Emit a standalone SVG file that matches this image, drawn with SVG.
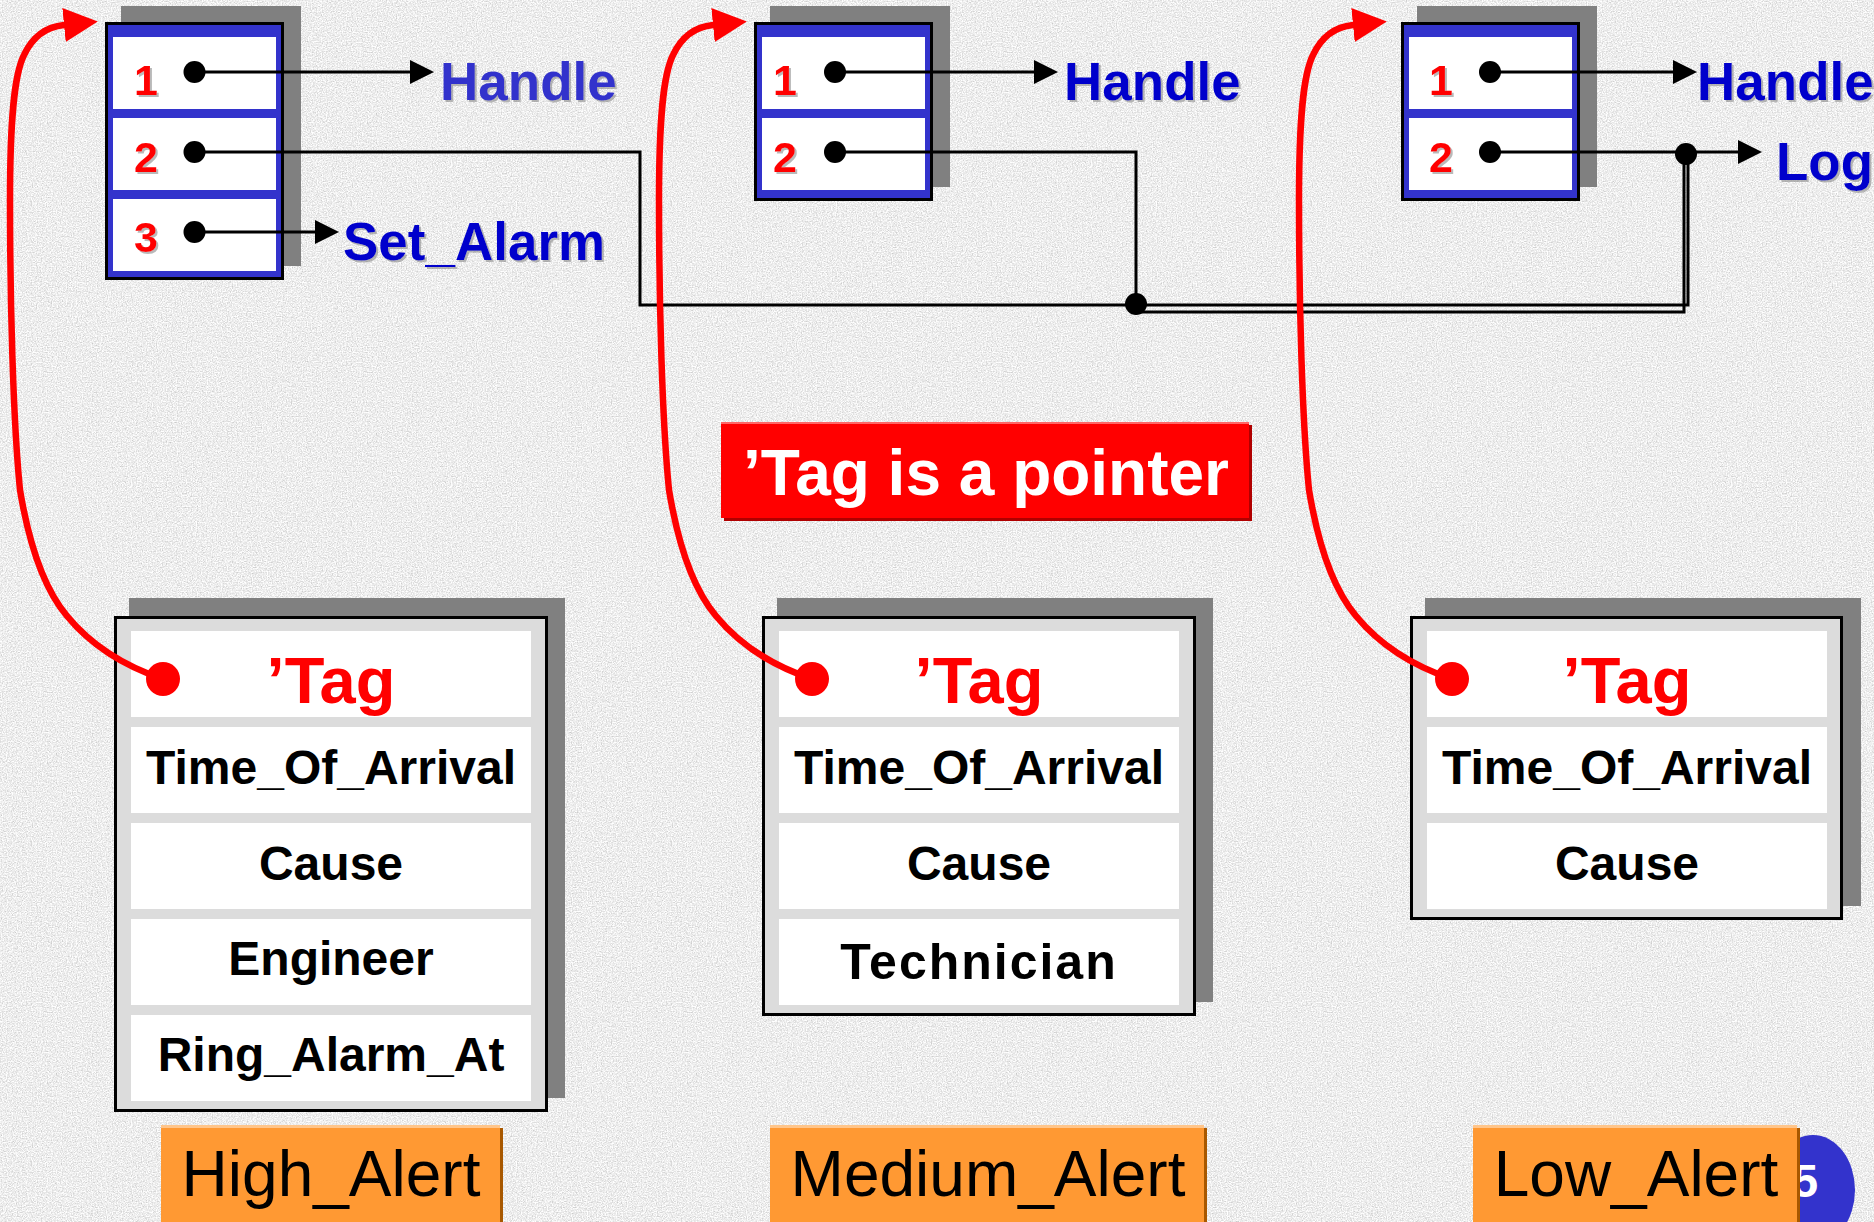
<svg xmlns="http://www.w3.org/2000/svg" width="1874" height="1222" viewBox="0 0 1874 1222">
  <defs>
    <style>
      text { font-family: "Liberation Sans", Arial, Helvetica, sans-serif; }
      .num { font-size: 43px; font-weight: bold; fill: #ff0000; text-anchor: middle; filter: url(#tsh); }
      .op { font-size: 53px; font-weight: bold; fill: #0000cc; filter: url(#tsh); }
      .shade { fill: #808080; }
      .frame { fill: #000000; }
      .blue { fill: #3333cc; }
      .cell { fill: #ffffff; }
      .panel { fill: #dcdcdc; }
      .field { font-size: 48px; font-weight: bold; fill: #000000; text-anchor: middle; }
      .tag { font-size: 65px; font-weight: bold; fill: #ff0000; text-anchor: middle; }
      .wire { fill: none; stroke: #000000; stroke-width: 3; }
      .ray { fill: none; stroke: #000000; stroke-width: 3; marker-end: url(#head); }
      .ptr { fill: none; stroke: #ff0000; stroke-width: 6.5; stroke-linecap: round; marker-end: url(#redhead); }
      .dot { fill: #000000; }
      .rdot { fill: #ff0000; }
      .lbl { fill: #ff9933; }
      .lbl-top { fill: #ffc58a; }
      .lbl-edge { fill: #a85800; }
      .lbltext { font-size: 64px; fill: #000000; text-anchor: middle; }
    </style>
    <filter id="grain" filterUnits="userSpaceOnUse" x="0" y="0" width="1874" height="1222">
      <feTurbulence type="fractalNoise" baseFrequency="0.8" numOctaves="3" seed="11"/>
      <feColorMatrix type="matrix" values="0.7 0 0 0 0.5  0.7 0 0 0 0.5  0.7 0 0 0 0.5  0 0 0 0 1"/>
    </filter>
    <filter id="tsh" x="-10%" y="-10%" width="130%" height="130%">
      <feDropShadow dx="2" dy="2" stdDeviation="0.4" flood-color="#8a8a8a" flood-opacity="0.6"/>
    </filter>
    <marker id="head" markerUnits="userSpaceOnUse" viewBox="0 0 24 24" markerWidth="24" markerHeight="24" refX="0" refY="12" orient="auto">
      <path d="M0,0 L24,12 L0,24 z" fill="#000000"/>
    </marker>
    <marker id="redhead" markerUnits="userSpaceOnUse" viewBox="0 0 34 34" markerWidth="34" markerHeight="34" refX="0" refY="17" orient="auto">
      <path d="M0,0 L34,17 L0,34 z" fill="#ff0000"/>
    </marker>
  </defs>

  <!-- granite backdrop -->
  <rect x="0" y="0" width="1874" height="1222" fill="#d8d8d8"/>
  <rect x="0" y="0" width="1874" height="1222" filter="url(#grain)"/>

  <!-- access tables -->
  <g id="table-high">
    <rect class="shade" x="121" y="6" width="180" height="260"/>
    <rect class="frame" x="105" y="22" width="179" height="258"/>
    <rect class="blue" x="108" y="25" width="173" height="252"/>
    <rect class="cell" x="113" y="37" width="163" height="72"/>
    <rect class="cell" x="113" y="118" width="163" height="72"/>
    <rect class="cell" x="113" y="199" width="163" height="72"/>
    <text class="num" x="146" y="95">1</text>
    <text class="num" x="146" y="172">2</text>
    <text class="num" x="146" y="252">3</text>
  </g>
  <g id="table-medium">
    <rect class="shade" x="770" y="6" width="180" height="181"/>
    <rect class="frame" x="754" y="22" width="179" height="179"/>
    <rect class="blue" x="757" y="25" width="173" height="173"/>
    <rect class="cell" x="762" y="37" width="163" height="72"/>
    <rect class="cell" x="762" y="118" width="163" height="72"/>
    <text class="num" x="785" y="95">1</text>
    <text class="num" x="785" y="172">2</text>
  </g>
  <g id="table-low">
    <rect class="shade" x="1417" y="6" width="180" height="181"/>
    <rect class="frame" x="1401" y="22" width="179" height="179"/>
    <rect class="blue" x="1404" y="25" width="173" height="173"/>
    <rect class="cell" x="1409" y="37" width="163" height="72"/>
    <rect class="cell" x="1409" y="118" width="163" height="72"/>
    <text class="num" x="1441" y="95">1</text>
    <text class="num" x="1441" y="172">2</text>
  </g>

  <!-- operation names -->
  <g id="op-handle-high"><text class="op" x="440" y="100" style="fill:#3333cc">Handle</text></g>
  <g id="op-set-alarm"><text class="op" x="343" y="260">Set_Alarm</text></g>
  <g id="op-handle-medium"><text class="op" x="1064" y="100">Handle</text></g>
  <g id="op-handle-low"><text class="op" x="1697" y="100">Handle</text></g>
  <g id="op-log"><text class="op" x="1776" y="180">Log</text></g>

  <!-- callout -->
  <g id="note">
    <rect x="724" y="425" width="528" height="96" fill="#b00000"/>
    <rect x="721" y="422" width="528" height="96" fill="#ff0000"/>
    <rect x="721" y="422" width="528" height="2" fill="#ff6666"/>
    <text x="986" y="495" font-size="64" font-weight="bold" fill="#ffffff" text-anchor="middle">’Tag is a pointer</text>
  </g>

  <!-- alert records -->
  <g id="record-high">
    <rect class="shade" x="129" y="598" width="436" height="500"/>
    <rect class="frame" x="114" y="616" width="434" height="496"/>
    <rect class="panel" x="117" y="619" width="428" height="490"/>
    <rect class="cell" x="131" y="631" width="400" height="86"/>
    <rect class="cell" x="131" y="727" width="400" height="86"/>
    <rect class="cell" x="131" y="823" width="400" height="86"/>
    <rect class="cell" x="131" y="919" width="400" height="86"/>
    <rect class="cell" x="131" y="1015" width="400" height="86"/>
    <text class="tag" x="331" y="703">’Tag</text>
    <text class="field" x="331" y="784">Time_Of_Arrival</text>
    <text class="field" x="331" y="880">Cause</text>
    <text class="field" x="331" y="975">Engineer</text>
    <text class="field" x="331" y="1071">Ring_Alarm_At</text>
  </g>
  <g id="record-medium">
    <rect class="shade" x="777" y="598" width="436" height="404"/>
    <rect class="frame" x="762" y="616" width="434" height="400"/>
    <rect class="panel" x="765" y="619" width="428" height="394"/>
    <rect class="cell" x="779" y="631" width="400" height="86"/>
    <rect class="cell" x="779" y="727" width="400" height="86"/>
    <rect class="cell" x="779" y="823" width="400" height="86"/>
    <rect class="cell" x="779" y="919" width="400" height="86"/>
    <text class="tag" x="979" y="703">’Tag</text>
    <text class="field" x="979" y="784">Time_Of_Arrival</text>
    <text class="field" x="979" y="880">Cause</text>
    <text class="field" x="979" y="979" style="font-size:50px;letter-spacing:2px">Technician</text>
  </g>
  <g id="record-low">
    <rect class="shade" x="1425" y="598" width="436" height="308"/>
    <rect class="frame" x="1410" y="616" width="433" height="304"/>
    <rect class="panel" x="1413" y="619" width="427" height="298"/>
    <rect class="cell" x="1427" y="631" width="400" height="86"/>
    <rect class="cell" x="1427" y="727" width="400" height="86"/>
    <rect class="cell" x="1427" y="823" width="400" height="86"/>
    <text class="tag" x="1627" y="703">’Tag</text>
    <text class="field" x="1627" y="784">Time_Of_Arrival</text>
    <text class="field" x="1627" y="880">Cause</text>
  </g>

  <!-- page badge -->
  <g id="badge">
    <ellipse cx="1813" cy="1190" rx="42" ry="55" fill="#3333cc"/>
    <text x="1792" y="1197" font-size="47" font-weight="bold" fill="#ffffff">5</text>
  </g>

  <!-- type names -->
  <g id="name-high">
    <rect class="lbl-edge" x="164" y="1128" width="339" height="94"/>
    <rect class="lbl" x="161" y="1125" width="339" height="97"/>
    <rect class="lbl-top" x="161" y="1125" width="339" height="3"/>
    <text class="lbltext" x="331" y="1196">High_Alert</text>
  </g>
  <g id="name-medium">
    <rect class="lbl-edge" x="773" y="1128" width="434" height="94"/>
    <rect class="lbl" x="770" y="1125" width="434" height="97"/>
    <rect class="lbl-top" x="770" y="1125" width="434" height="3"/>
    <text class="lbltext" x="988" y="1196">Medium_Alert</text>
  </g>
  <g id="name-low">
    <rect class="lbl-edge" x="1476" y="1128" width="324" height="94"/>
    <rect class="lbl" x="1473" y="1125" width="324" height="97"/>
    <rect class="lbl-top" x="1473" y="1125" width="324" height="3"/>
    <text class="lbltext" x="1636" y="1196">Low_Alert</text>
  </g>

  <!-- connectors -->
  <g id="connectors">
    <path class="wire" d="M194.5,152 H640 V305 H1688 V154"/>
    <path class="wire" d="M835,152 H1136 V312 H1684 V154"/>
    <path class="ray" d="M194.5,72 H410"/>
    <path class="ray" d="M194.5,232 H315"/>
    <path class="ray" d="M835,72 H1034"/>
    <path class="ray" d="M1490,72 H1673"/>
    <path class="ray" d="M1490,152 H1738"/>
    <circle class="dot" cx="194.5" cy="72" r="11"/>
    <circle class="dot" cx="194.5" cy="152" r="11"/>
    <circle class="dot" cx="194.5" cy="232" r="11"/>
    <circle class="dot" cx="835" cy="72" r="11"/>
    <circle class="dot" cx="835" cy="152" r="11"/>
    <circle class="dot" cx="1490" cy="72" r="11"/>
    <circle class="dot" cx="1490" cy="152" r="11"/>
    <circle class="dot" cx="1136" cy="304" r="11"/>
    <circle class="dot" cx="1686" cy="154" r="11"/>
    <path class="ptr" d="M163,679 C130,668 95,650 67,616 C45,590 30,550 20,490 C13,420 10,300 10,200 C10,120 14,75 24,55 C32,38 44,27 64,25"/>
    <path class="ptr" transform="translate(649,0)" d="M163,679 C130,668 95,650 67,616 C45,590 30,550 20,490 C13,420 10,300 10,200 C10,120 14,75 24,55 C32,38 44,27 64,25"/>
    <path class="ptr" transform="translate(1289,0)" d="M163,679 C130,668 95,650 67,616 C45,590 30,550 20,490 C13,420 10,300 10,200 C10,120 14,75 24,55 C32,38 44,27 64,25"/>
    <circle class="rdot" cx="163" cy="679" r="17"/>
    <circle class="rdot" cx="812" cy="679" r="17"/>
    <circle class="rdot" cx="1452" cy="679" r="17"/>
  </g>
</svg>
